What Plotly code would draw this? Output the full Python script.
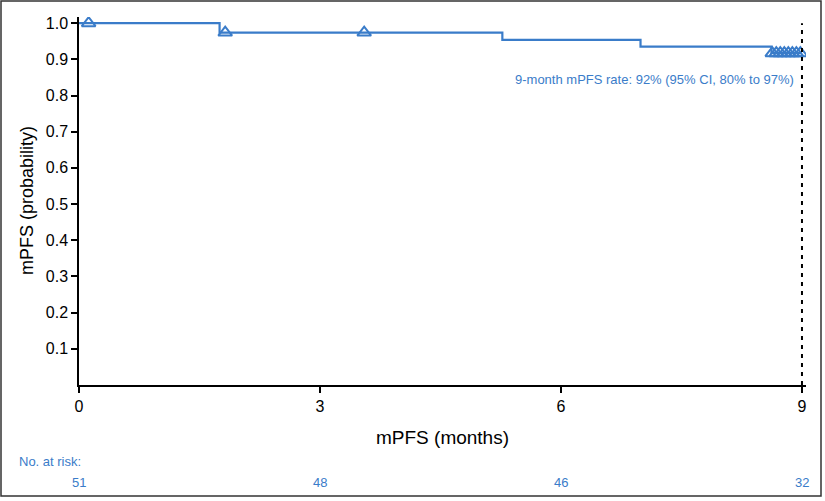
import plotly.graph_objects as go
import numpy as np

# ---- data ----
step_times = [0.0, 1.75, 5.27, 6.99, 8.62, 9.0]
step_surv = [1.0, 0.974, 0.954, 0.935, 0.917, 0.917]
censor_times = [0.12, 1.82, 3.55, 8.63, 8.68, 8.73, 8.78, 8.83, 8.88, 8.93, 8.98]
x_ticks = [0, 3, 6, 9]
y_ticks = [0.1, 0.2, 0.3, 0.4, 0.5, 0.6, 0.7, 0.8, 0.9, 1.0]
at_risk_times = [0, 3, 6, 9]
at_risk = [51, 48, 46, 32]
landmark = 9
annotation_text = "9-month mPFS rate: 92% (95% CI, 80% to 97%)"

BLUE = "#3a7cc9"
W, H = 825, 501
ML, MR, MT, MB = 79, 19, 17, 116
PW, PH = W - ML - MR, H - MT - MB
X0PIX, YBOT = ML, H - MB  # pixel positions of plot-area left / bottom


def px_x(p):  # pixel x -> paper
    return (p - X0PIX) / PW


def px_y(p):  # pixel y -> paper
    return (YBOT - p) / PH


def surv_at(t):
    idx = np.searchsorted(step_times, t, side="right") - 1
    return step_surv[max(idx, 0)]


censor_surv = [surv_at(t) for t in censor_times]

fig = go.Figure()
fig.add_trace(go.Scatter(x=step_times, y=step_surv, mode="lines",
                         line=dict(color=BLUE, width=2.2, shape="hv"),
                         hoverinfo="skip", showlegend=False))
fig.add_trace(go.Scatter(x=censor_times, y=censor_surv, mode="markers",
                         marker=dict(symbol="triangle-up-open", size=12,
                                     color=BLUE, line=dict(color=BLUE, width=2)),
                         showlegend=False))

# dotted landmark line
fig.add_shape(type="line", x0=landmark, x1=landmark, y0=0, y1=1.0,
              xref="x", yref="y", line=dict(color="black", width=2, dash="4px,5px"))

# border around the whole figure
fig.add_shape(type="rect", xref="paper", yref="paper",
              x0=px_x(1), x1=px_x(821), y0=px_y(496), y1=px_y(1),
              line=dict(color="#333333", width=1.5), layer="below")

fig.add_annotation(x=8.93, y=0.843, xref="x", yref="y", text=annotation_text,
                   showarrow=False, xanchor="right", yanchor="middle",
                   font=dict(family="Liberation Sans, Arial", size=13, color=BLUE))

# axis titles
fig.add_annotation(x=0.5, y=px_y(437), xref="paper", yref="paper",
                   text="mPFS (months)", showarrow=False, xanchor="center",
                   yanchor="middle", font=dict(size=19, color="black"))
fig.add_annotation(x=px_x(27), y=0.5, xref="paper", yref="paper",
                   text="mPFS (probability)", showarrow=False, textangle=-90,
                   xanchor="center", yanchor="middle", font=dict(size=18, color="black"))

# number at risk table
fig.add_annotation(x=px_x(17), y=px_y(461), xref="paper", yref="paper",
                   text="No. at risk:", showarrow=False, xanchor="left",
                   yanchor="middle",
                   font=dict(family="Liberation Sans, Arial", size=13, color=BLUE))
for t, n in zip(at_risk_times, at_risk):
    fig.add_annotation(x=t / 9.05, y=px_y(482), xref="paper", yref="paper",
                       text=str(n), showarrow=False, xanchor="center",
                       yanchor="middle",
                       font=dict(family="Liberation Sans, Arial", size=13, color=BLUE))

fig.update_layout(
    width=W, height=H,
    margin=dict(l=ML, r=MR, t=MT, b=MB, autoexpand=False),
    paper_bgcolor="white", plot_bgcolor="white",
    font=dict(family="Liberation Sans, Arial", color="black"),
    xaxis=dict(range=[0, 9.05], tickvals=x_ticks, ticktext=[str(v) for v in x_ticks],
               ticks="outside", ticklen=6, tickwidth=1.5, tickcolor="black",
               showline=True, linecolor="black", linewidth=1.5,
               showgrid=False, zeroline=False, automargin=False,
               tickfont=dict(size=16)),
    yaxis=dict(range=[0, 1.017], tickvals=y_ticks, ticktext=[f"{v:.1f}" for v in y_ticks],
               ticks="outside", ticklen=6, tickwidth=1.5, tickcolor="black",
               showline=True, linecolor="black", linewidth=1.5,
               showgrid=False, zeroline=False, automargin=False,
               tickfont=dict(size=16)),
)

fig.write_html("out.html", config={"displayModeBar": False},
               post_script="document.body.style.margin='0';document.body.style.overflow='hidden';")
